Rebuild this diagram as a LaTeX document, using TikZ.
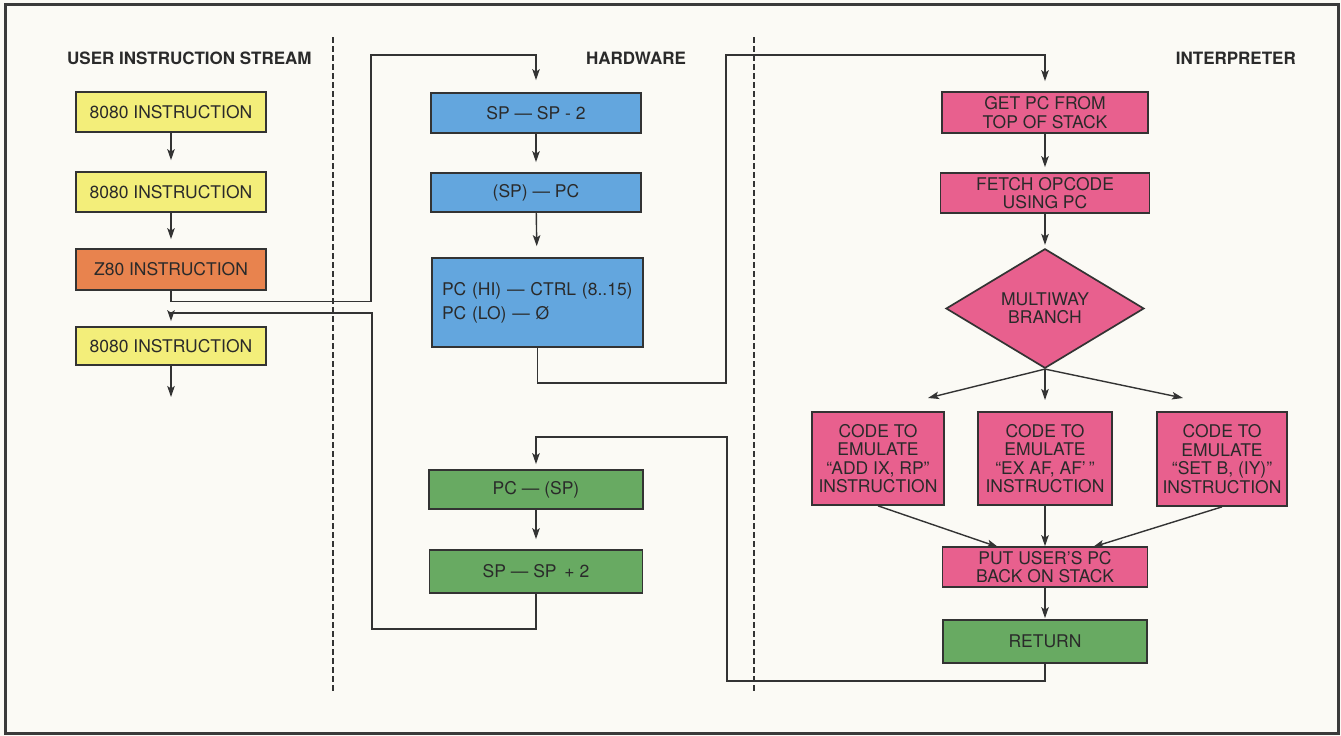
\documentclass[tikz,border=0pt]{standalone}
\usepackage{fontspec}
\setmainfont{TeX Gyre Heros}
\usetikzlibrary{arrows.meta,shapes.geometric,calc}
\definecolor{bg}{HTML}{FBFAF5}
\definecolor{framec}{HTML}{3A3A3A}
\definecolor{linec}{HTML}{333333}
\definecolor{txt}{HTML}{2A2A2A}
\definecolor{yel}{HTML}{F3EE7A}
\definecolor{ora}{HTML}{E8834E}
\definecolor{blu}{HTML}{63A6DE}
\definecolor{grn}{HTML}{68AA62}
\definecolor{pnk}{HTML}{E8608E}
\begin{document}
\begin{tikzpicture}[x=1pt,y=-1pt,
  box/.style={draw=linec, line width=1.7pt, inner sep=0pt, text=txt, align=center,
              font=\fontsize{17.5}{19}\selectfont},
  ybox/.style={box, fill=yel, minimum width=190pt, minimum height=40pt},
  obox/.style={box, fill=ora, minimum width=190pt, minimum height=41pt},
  bbox/.style={box, fill=blu},
  gbox/.style={box, fill=grn},
  pbox/.style={box, fill=pnk, font=\fontsize{17.5}{18.5}\selectfont},
  title/.style={text=txt, font=\fontsize{17}{19}\selectfont\bfseries, inner sep=0pt},
  arr/.style={draw=linec, line width=1.4pt, -{Stealth[length=11pt,width=7.5pt,inset=2.5pt]}},
  conn/.style={draw=linec, line width=1.4pt},
  dashline/.style={draw=linec, line width=1.8pt, dash pattern=on 6pt off 3pt}
]
\useasboundingbox (0,0) rectangle (1341,736);
\fill[bg] (0,0) rectangle (1341,736);
\draw[framec, line width=3pt] (5,4) rectangle (1338,733);

% dashed separators
\draw[dashline] (333,37) -- (333,693);
\draw[dashline] (754,37) -- (754,693);

% titles
\node[title, anchor=west] (tuser) at (67,58) {USER INSTRUCTION STREAM};
\node[title] (thw) at (636,58) {HARDWARE};
\node[title, anchor=east] (tint) at (1296,58) {INTERPRETER};

% user instruction stream
\node[ybox] (u1) at (171,112) {8080 INSTRUCTION};
\node[ybox] (u2) at (171,192) {8080 INSTRUCTION};
\node[obox] (z80) at (171,269.5) {Z80 INSTRUCTION};
\node[ybox, minimum height=38pt] (u4) at (171,346) {8080 INSTRUCTION};
\coordinate (uend) at (171,397);

% hardware
\node[bbox, minimum width=210pt, minimum height=40pt] (h1) at (536,113) {SP — SP - 2};
\node[bbox, minimum width=210pt, minimum height=39pt] (h2) at (536,192.5) {(SP) — PC};
\node[bbox, minimum width=211pt, minimum height=89pt, text width=191pt, align=left,
      font=\fontsize{17.5}{24}\selectfont] (h3) at (537.5,302.5) {PC (HI) — CTRL (8..15)\\PC (LO) — Ø};
\node[gbox, minimum width=214pt, minimum height=39pt] (h4) at (536,489.5) {PC — (SP)};
\node[gbox, minimum width=213pt, minimum height=43pt] (h5) at (536,571.5) {SP — SP\, + 2};

% interpreter
\node[pbox, minimum width=206pt, minimum height=41pt] (i1) at (1045,112.5) {GET PC FROM\\TOP OF STACK};
\node[pbox, minimum width=209pt, minimum height=40pt] (i2) at (1045,193) {FETCH OPCODE\\USING PC};
\node[pbox, shape=diamond, minimum width=198pt, minimum height=115pt] (dia) at (1045,308.5) {MULTIWAY\\BRANCH};
\node[pbox, minimum width=132pt, minimum height=93pt] (c1) at (878,458.5) {CODE TO\\EMULATE\\``ADD IX, RP''\\INSTRUCTION};
\node[pbox, minimum width=134pt, minimum height=93pt] (c2) at (1045,458.5) {CODE TO\\EMULATE\\``EX AF, AF\textquoteright\,''\\INSTRUCTION};
\node[pbox, minimum width=130pt, minimum height=94pt] (c3) at (1222,459) {CODE TO\\EMULATE\\``SET B, (IY)''\\INSTRUCTION};
\node[pbox, minimum width=205pt, minimum height=40pt] (put) at (1045,567) {PUT USER'S PC\\BACK ON STACK};
\node[gbox, minimum width=204pt, minimum height=43pt] (ret) at (1045,641.5) {RETURN};

\coordinate (t1) at (928,398);
\coordinate (t2) at (1045,400);
\coordinate (t3) at (1183,398);
\coordinate (p1) at (998,547);
\coordinate (p3) at (1093,547);

% arrows in columns
\draw[arr, shorten >=11pt] (u1) -- (u2);
\draw[arr, shorten >=9pt] (u2) -- (z80);
\draw[arr] (u4) -- (uend);
\draw[arr, shorten >=10pt] (h1) -- (h2);
\draw[arr, shorten >=11pt] (h2) -- (h3);
\draw[arr, shorten >=10pt] (h4) -- (h5);
\draw[arr, shorten >=5pt] (i1) -- (i2);
\draw[arr, shorten >=3pt] (i2) -- (dia);
\draw[arr] (dia.south) -- (t1);
\draw[arr] (dia.south) -- (t2);
\draw[arr] (dia.south) -- (t3);
\draw[arr] (c1.south) -- (p1);
\draw[arr] (c2.south) -- (put.north);
\draw[arr] (c3.south) -- (p3);
\draw[arr, shorten >=1pt] (put) -- (ret);

% cross-column connectors
\draw[arr, shorten >=12pt] (z80.south) -- ++(0,10.5) -| (371,55) -| (h1.north);
\draw[arr, shorten >=5pt] (h5.south) -- ++(0,35) -| (372,313) -| (u4.north);
\draw[arr, shorten >=10pt] (h3.south) -- ++(0,35) -| (726,55) -| (i1.north);
\draw[arr, shorten >=5pt] (ret.south) -- ++(0,17) -| (727,437) -| (h4.north);
\end{tikzpicture}
\end{document}
